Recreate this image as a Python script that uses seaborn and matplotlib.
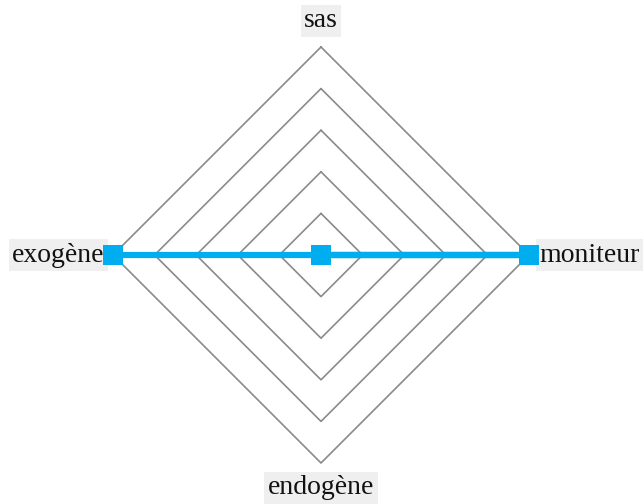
import numpy as np
import pandas as pd
import matplotlib
matplotlib.use("Agg")
import matplotlib.pyplot as plt
import seaborn as sns

# radar data (clockwise from top)
categories = ["sas", "moniteur", "endogène", "exogène"]
values = [0, 5, 0, 5]
max_value = 5
n_rings = 5

line_color = "#00aeef"
grid_color = "#8a8a8a"
label_bg = "#efefef"

sns.set_theme(style="white")
plt.rcParams["font.family"] = ["Liberation Serif", "DejaVu Serif"]

angles = np.pi / 2 - np.arange(len(categories)) * 2 * np.pi / len(categories)

fig = plt.figure(figsize=(6.44, 5.04), dpi=100)
ax = fig.add_axes([0, 0, 1, 1])
scale = 41.6
ax.set_xlim(-321 / scale, (644 - 321) / scale)
ax.set_ylim(-249 / scale, (504 - 249) / scale)
ax.axis("off")

# diamond grid
for k in range(1, n_rings + 1):
    r = max_value * k / n_rings
    gx = np.append(r * np.cos(angles), r * np.cos(angles[0]))
    gy = np.append(r * np.sin(angles), r * np.sin(angles[0]))
    ax.plot(gx, gy, color=grid_color, lw=1.2, zorder=1)

# data polygon
v = np.array(values, dtype=float)
df = pd.DataFrame({
    "x": np.append(v * np.cos(angles), v[0] * np.cos(angles[0])),
    "y": np.append(v * np.sin(angles), v[0] * np.sin(angles[0])),
    "order": np.arange(len(v) + 1),
})
sns.lineplot(data=df, x="x", y="y", sort=False, color=line_color, lw=4.5,
             ax=ax, zorder=3, legend=False)
sns.scatterplot(data=df.iloc[:-1], x="x", y="y", marker="s", s=190,
                color=line_color, edgecolor="none", ax=ax, zorder=4, legend=False)
ax.set_xlabel("")
ax.set_ylabel("")

# axis labels
label_box = dict(boxstyle="square,pad=0.12", facecolor=label_bg, edgecolor="none")
offsets = {
    "sas": (0, 0.63, "center", "center"),
    "moniteur": (0.25, 0, "left", "center"),
    "endogène": (0, -0.6, "center", "center"),
    "exogène": (-0.2, 0, "right", "center"),
}
for cat, a in zip(categories, angles):
    dx, dy, ha, va = offsets[cat]
    x = max_value * np.cos(a) + dx
    y = max_value * np.sin(a) + dy
    ax.text(x, y, cat, fontsize=20, ha=ha, va=va, color="#111111",
            bbox=label_box, zorder=2)

fig.savefig("out.png", dpi=100)
